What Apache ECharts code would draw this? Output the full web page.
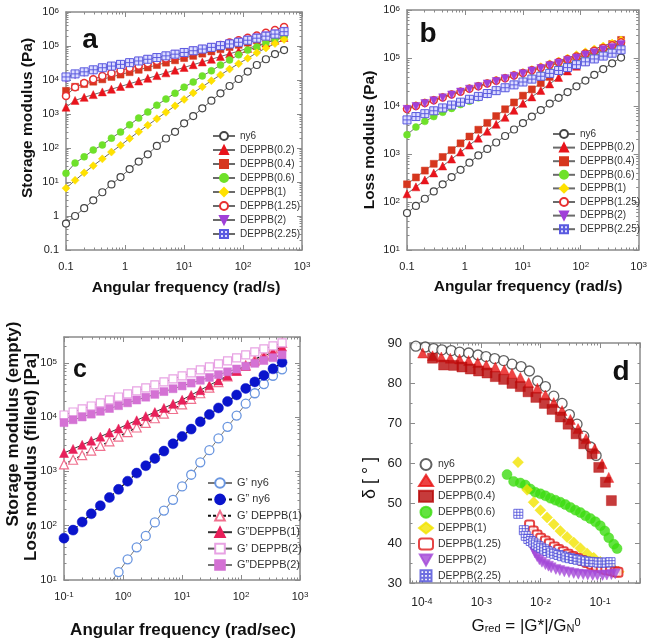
<!DOCTYPE html>
<html><head><meta charset="utf-8">
<script src="https://cdn.jsdelivr.net/npm/echarts@6/dist/echarts.min.js"></script>
<style>html,body{margin:0;padding:0;background:#fff}#c{width:650px;height:643px}</style>
</head><body><div id="c"></div>
<script>
// ---------- data ----------
const freq = [0.1,0.1426,0.2032,0.2897,0.413,0.589,0.84,1.197,1.706,2.432,3.467,4.943,7.047,10.05,14.32,20.42,29.11,41.5,59.16,84.3,120.2,171.4,244.3,348.3,496.6];
const legendA = ['ny6','DEPPB(0.2)','DEPPB(0.4)','DEPPB(0.6)','DEPPB(1)','DEPPB(1.25)','DEPPB(2)','DEPPB(2.25)'];
// panel a: storage modulus (Pa)
const a_ny6  = [0.6,1.0,1.7,2.9,5,8.5,14,24,40,65,115,190,300,530,870,1470,2470,4060,6650,10700,17700,27600,40700,58000,76000];
const a_d02  = [1585,2512,3090,3715,4467,5370,6457,7762,9333,11220,13490,16220,19500,23440,28180,33880,40740,48980,58880,70790,85110,102300,123000,147900,177800];
const a_d04  = [4786,6310,7586,8913,10470,12300,14450,16980,19950,23440,27540,32360,38020,44160,51290,59570,69180,80350,93330,108400,125900,146200,169800,197200,229100];
const a_d06  = [18,36,55,87,123,195,295,479,759,1148,1820,2754,4074,6166,8710,13180,18620,27540,38900,54950,75860,93330,123000,158500,182000];
const a_d1   = [6.6,11.2,18.6,30.2,47.9,75.9,120,191,302,468,724,1122,1738,2692,4169,6310,9550,14130,20890,30200,43650,63100,87100,117500,154900];
const a_d125 = [3388,6166,8128,10470,13180,15850,19050,22390,26300,30900,36310,42660,50120,57540,67610,77620,91200,107200,125900,147900,173800,204200,245500,295100,363100];
const a_d2   = [11000,14000,16500,19000,22000,25000,28000,31500,35500,40000,45000,50500,57000,64000,72000,81000,91500,103000,116000,131000,151000,174000,200000,230000,270000];
const a_d225 = [12300,15140,17380,19950,22910,25700,28840,32360,36310,40740,45710,51290,57540,64570,72440,81280,91200,102300,114800,128800,147900,169800,195000,223900,263000];
// panel b: loss modulus (Pa)
const b_ny6  = [59,83,117,166,234,331,468,661,933,1274,1738,2371,3236,4416,6026,8222,11220,14790,19500,25700,33880,44670,58880,77620,102300];
const b_d02  = [148,207,288,403,562,785,1096,1531,2138,2985,4169,5821,8128,11350,15490,21130,28840,39360,53700,67610,85110,107200,134900,169800,213800];
const b_d04  = [234,325,451,625,867,1202,1667,2312,3206,4446,6166,8551,11860,16440,22180,29920,40360,54450,73450,89330,108600,132100,160700,195400,237700];
const b_d06  = [2512,3631,4786,6026,7413,8913,10720,12590,14790,17380,20420,23990,28180,33110,38900,45710,53700,63100,74130,87100,102300,120200,141300,166000,199500];
const b_d1   = [8913,10230,11750,13490,15490,17780,20420,23440,26300,30200,34670,38900,44670,50120,57540,66070,75860,87100,100000,117500,134900,154900,177800,204200,237100];
const b_d125 = [8700,10000,11500,13200,15100,17400,19900,22900,25700,29500,33500,38000,43200,48500,55600,63000,72500,82300,94500,108000,124000,141000,162000,185000,213000];
const b_d2   = [8511,9772,11220,12880,14790,16980,19500,22390,25120,28840,32360,37150,41690,46770,53700,60260,69180,77620,89130,100000,114800,128800,147900,166000,190500];
const b_d225 = [5129,6026,6918,7943,9120,10470,12020,13800,15850,18200,20890,23990,27540,31620,36310,41690,47860,54950,63100,72440,83180,95500,109600,125900,147900];
// panel c
const legendC = ['G’ ny6','G” ny6','G’ DEPPB(1)','G”DEPPB(1)','G’ DEPPB(2)','G”DEPPB(2)'];
const c_gp_ny6  = a_ny6;
const c_gpp_ny6 = b_ny6;
const c_gp_d1   = [1349,1641,1995,2427,2951,3589,4365,5309,6457,7852,9550,11610,14130,17180,21780,27610,34990,44360,56230,71290,90360,114600,145200,184100,233300];
const c_gpp_d1  = [2188,2600,3090,3681,4375,5212,6194,7379,8770,10450,12420,14790,17580,20890,25640,31480,38640,47420,58210,71450,87700,107600,132100,162200,199500];
const c_gp_d2   = [10960,12450,14160,16070,18280,20750,23550,26790,30410,34590,39260,44570,50700,57540,65460,74300,84330,95940,108900,123900,140600,159600,181600,206100,234400];
const c_gpp_d2  = [7943,8954,10090,11380,12820,14450,16290,18370,20700,23330,26300,29650,33420,37670,42460,47860,53950,60810,68550,77270,87100,98170,110700,124700,140600];
// panel d: [G_red, delta]
const d_ny6 = [[7.9e-5,89.2],[1.14e-4,89.0],[1.57e-4,88.6],[2.17e-4,88.3],[3.12e-4,88.1],[4.31e-4,87.7],[6.12e-4,87.5],[8.8e-4,87.0],[1.2e-3,86.6],[1.68e-3,86.1],[2.38e-3,85.6],[3.29e-3,84.7],[4.67e-3,84.1],[6.45e-3,83.0],[8.9e-3,80.5],[0.012,79.1],[0.0166,76.7],[0.0229,74.9],[0.0304,72.1],[0.0409,69.7],[0.0531,66.7],[0.0688,64.0],[0.0857,61.9]];
const d_d02 = [[1.03e-4,87.5],[1.51e-4,86.8],[2.12e-4,86.5],[3.0e-4,86.2],[4.3e-4,86.0],[6.1e-4,85.6],[8.7e-4,85.1],[1.21e-3,84.5],[1.72e-3,84.0],[2.44e-3,83.3],[3.29e-3,82.4],[4.54e-3,81.4],[6.28e-3,80.1],[8.8e-3,78.7],[0.012,77.0],[0.0166,75.1],[0.0229,73.1],[0.0316,70.9],[0.0426,68.6],[0.058,66.1],[0.0813,63.6],[0.108,59.8],[0.14,56.4]];
const d_d04 = [[1.51e-4,86.2],[2.32e-4,84.5],[3.42e-4,84.4],[4.72e-4,84.0],[6.53e-4,83.5],[9.0e-4,83.0],[1.25e-3,82.5],[1.72e-3,81.6],[2.38e-3,80.9],[3.29e-3,79.9],[4.54e-3,79.1],[6.12e-3,77.8],[8.3e-3,76.4],[0.01153,74.9],[0.0155,73.4],[0.0214,71.5],[0.0289,69.7],[0.0394,67.3],[0.0531,64.8],[0.0733,62.3],[0.095,58.9],[0.123,55.2],[0.155,50.6]];
const d_d06 = [[2.71e-3,57.1],[3.5e-3,55.4],[4.54e-3,55.0],[5.5e-3,54.5],[6.7e-3,53.5],[8.1e-3,52.7],[9.9e-3,52.3],[0.012,51.8],[0.0146,51.2],[0.0177,50.7],[0.0214,50.2],[0.026,49.6],[0.0316,48.9],[0.0384,48.2],[0.0466,47.6],[0.0566,46.8],[0.0688,46.1],[0.0834,45.3],[0.101,44.3],[0.12,43.0],[0.14,41.3],[0.17,39.7],[0.193,38.6]];
const d_d1 = [[4.15e-3,60.2],[5.9e-3,53.3],[7.6e-3,50.2],[9.9e-3,48.2],[0.0128,46.4],[0.0166,44.7],[0.0214,43.0],[0.0278,41.5],[0.036,40.1],[0.0466,38.7],[0.0604,37.4],[0.0782,36.3],[0.101,35.3],[0.131,34.2],[0.17,33.4],[0.206,32.8]];
const d_d125 = [[6.5e-3,44.5],[7.5e-3,43.0],[8.7e-3,42.0],[0.01,41.2],[0.012,40.5],[0.014,39.8],[0.017,39.0],[0.02,38.4],[0.024,37.8],[0.029,37.2],[0.035,36.6],[0.042,36.1],[0.05,35.6],[0.06,35.1],[0.072,34.6],[0.087,34.2],[0.105,33.8],[0.125,33.4],[0.15,33.1],[0.18,32.8],[0.2,32.7]];
const d_d2 = [[7e-3,39.5],[7.5e-3,38.5],[8e-3,37.5],[8.7e-3,36.6],[9.5e-3,35.8],[0.0105,35.2],[0.012,34.6],[0.0135,34.2],[0.015,33.8],[0.018,33.4],[0.021,33.1],[0.025,32.8],[0.03,32.6],[0.036,32.4],[0.043,32.2],[0.052,32.1],[0.062,32.0],[0.075,31.9],[0.09,31.9],[0.11,31.9],[0.13,32.0],[0.155,32.1],[0.18,32.3]];
const d_d225 = [[4.2e-3,47.3],[5.2e-3,43.2],[5.6e-3,41.8],[6.2e-3,41.0],[6.8e-3,40.5],[7.5e-3,40.1],[8.3e-3,39.6],[9.2e-3,39.2],[0.0102,38.8],[0.0115,38.4],[0.013,38.0],[0.015,37.6],[0.017,37.3],[0.02,37.0],[0.023,36.7],[0.027,36.4],[0.031,36.2],[0.036,36.0],[0.042,35.8],[0.05,35.6],[0.058,35.4],[0.068,35.3],[0.08,35.2],[0.095,35.1],[0.11,35.1],[0.13,35.1],[0.15,35.2]];

// ---------- styling / layout ----------
const FONT = '"Liberation Sans", Arial, sans-serif';
const chart = echarts.init(document.getElementById('c'), null, {renderer:'canvas'});
const grids = [
  {left:66, top:12, width:236, height:238},
  {left:407, top:10, width:233, height:240},
  {left:64, top:337, width:236, height:243},
  {left:410, top:343, width:230, height:240}
];
const xCfg = [
  {type:'log', min:0.1, max:1000, fmt:'dec', margin:11, fs:11},
  {type:'log', min:0.1, max:1000, fmt:'dec', margin:11, fs:11},
  {type:'log', min:0.1, max:1000, fmt:'exp', margin:11, fs:11},
  {type:'log', min:6.3e-5, max:0.47, fmt:'exp', margin:14, fs:12}
];
const yCfg = [
  {type:'log', min:0.1, max:1e6, fmt:'dec', margin:7, fs:11},
  {type:'log', min:10, max:1e6, fmt:'exp', margin:7, fs:11},
  {type:'log', min:10, max:3e5, fmt:'exp', margin:7, fs:11},
  {type:'value', min:30, max:90, interval:10, margin:8, fs:13}
];
function logFmt(style){
  return v => {
    const l = Math.log10(v), e = Math.round(l);
    if (Math.abs(l - e) > 1e-6) return '';
    if (style === 'dec' && e === -1) return '0.1';
    if (style === 'dec' && e === 0) return '1';
    return '10{s|' + e + '}';
  };
}
function minorVals(cfg){
  const out = [];
  if (cfg.type === 'log') {
    for (let e = Math.floor(Math.log10(cfg.min)) - 1; e <= Math.ceil(Math.log10(cfg.max)); e++) {
      for (let m = 2; m <= 9; m++) { const v = m * Math.pow(10, e); if (v > cfg.min && v < cfg.max) out.push(v); }
    }
  } else {
    for (let v = cfg.min + cfg.interval/2; v < cfg.max; v += cfg.interval) out.push(v);
  }
  return out;
}
const AX = '#8a8a8a';
function mkAxis(gi, cfg, pos, kind){
  const ax = {
    type: cfg.type, gridIndex: gi, min: cfg.min, max: cfg.max, position: pos, silent: true,
    axisLine: {show: kind !== 'minor', onZero: false, lineStyle: {color: AX, width: 1.5}},
    axisTick: {show: true, inside: true, length: kind === 'minor' ? 2.5 : 5, lineStyle: {color: AX, width: 1}},
    axisLabel: {show: false}, splitLine: {show: false}
  };
  if (cfg.type === 'log') ax.logBase = 10;
  if (cfg.interval) ax.interval = cfg.interval;
  if (kind === 'minor') ax.axisTick.customValues = minorVals(cfg);
  if (kind === 'major') {
    ax.axisLabel = {
      show: true, color: '#222', fontSize: cfg.fs, fontFamily: FONT, margin: cfg.margin,
      formatter: cfg.type === 'log' ? logFmt(cfg.fmt) : (v => String(v)),
      rich: {s: {fontSize: Math.round(cfg.fs * 0.72), fontFamily: FONT, color: '#222', verticalAlign: 'top', lineHeight: 9}}
    };
  }
  return ax;
}
const xAxes = [], yAxes = [], xIdx = [], yIdx = [];
for (let g = 0; g < 4; g++) {
  xIdx.push(xAxes.length);
  xAxes.push(mkAxis(g, xCfg[g], 'bottom', 'major'));
  xAxes.push(mkAxis(g, xCfg[g], 'top', 'mirror'));
  xAxes.push(mkAxis(g, xCfg[g], 'bottom', 'minor'));
  xAxes.push(mkAxis(g, xCfg[g], 'top', 'minor'));
  yIdx.push(yAxes.length);
  yAxes.push(mkAxis(g, yCfg[g], 'left', 'major'));
  yAxes.push(mkAxis(g, yCfg[g], 'right', 'mirror'));
  yAxes.push(mkAxis(g, yCfg[g], 'left', 'minor'));
  yAxes.push(mkAxis(g, yCfg[g], 'right', 'minor'));
}

const MK = {
  'ny6':        {symbol:'circle', size:7, color:'#ffffff', border:'#444', bw:1.2},
  'DEPPB(0.2)': {symbol:'triangle', size:8, color:'#e8141c'},
  'DEPPB(0.4)': {symbol:'rect', size:7, color:'#d6361e'},
  'DEPPB(0.6)': {symbol:'circle', size:7, color:'#6fe12a'},
  'DEPPB(1)':   {symbol:'diamond', size:8, color:'#ffe100'},
  'DEPPB(1.25)':{symbol:'circle', size:7, color:'#ffffff', border:'#e83030', bw:1.5},
  'DEPPB(2)':   {symbol:'path://M0,0L10,0L5,9Z', size:8, color:'#a040d8'},
  'DEPPB(2.25)':{symbol:'path://M0,0H10V10H0Z M5,0V10 M0,5H10', size:8, color:'#dcdcff', border:'#5a5ae0', bw:1}
};
function zip(ys){ return freq.map((f, i) => [f, ys[i]]); }
const series = [];
function lineSeries(prefix, g, name, ys, mk, line){
  series.push({
    name: prefix + name, type: 'line', xAxisIndex: xIdx[g], yAxisIndex: yIdx[g],
    data: zip(ys), symbol: mk.symbol, symbolSize: mk.size, showSymbol: true, silent: true, animation: false,
    itemStyle: {color: mk.color, borderColor: mk.border || mk.color, borderWidth: mk.bw || 0.5},
    lineStyle: Object.assign({color: '#6a6a6a', width: 1}, line || {}),
    emphasis: {disabled: true}
  });
}
const aData = [a_ny6, a_d02, a_d04, a_d06, a_d1, a_d125, a_d2, a_d225];
const bData = [b_ny6, b_d02, b_d04, b_d06, b_d1, b_d125, b_d2, b_d225];
legendA.forEach((n, i) => lineSeries('a:', 0, n, aData[i], MK[n]));
legendA.forEach((n, i) => lineSeries('b:', 1, n, bData[i], MK[n]));

const MKC = [
  {symbol:'circle', size:9, color:'#ffffff', border:'#6a96e0', bw:1.3},
  {symbol:'circle', size:10, color:'#0a14cc', border:'#0a14cc', bw:0.5},
  {symbol:'triangle', size:9, color:'#ffffff', border:'#f0708e', bw:1.2},
  {symbol:'triangle', size:9, color:'#e8205a', border:'#e8205a', bw:0.5},
  {symbol:'rect', size:8, color:'#ffffff', border:'#e8a2e4', bw:1.2},
  {symbol:'rect', size:8, color:'#d472d4', border:'#d472d4', bw:0.5}
];
const LNC = [
  {color:'#777', width:1},
  {color:'#111', width:1.2, type:[4,3]},
  {color:'#111', width:1.2, type:[3,2]},
  {color:'#333', width:1},
  {color:'#555', width:1},
  {color:'#777', width:1}
];
const cData = [c_gp_ny6, c_gpp_ny6, c_gp_d1, c_gpp_d1, c_gp_d2, c_gpp_d2];
legendC.forEach((n, i) => lineSeries('c:', 2, n, cData[i], MKC[i], LNC[i]));

const MKD = {
  'ny6':        {symbol:'circle', size:10, color:'#ffffff', border:'#3a3a3a', bw:1.3},
  'DEPPB(0.2)': {symbol:'triangle', size:10, color:'#e81414'},
  'DEPPB(0.4)': {symbol:'rect', size:10, color:'#b80a0a'},
  'DEPPB(0.6)': {symbol:'circle', size:10, color:'#3cdc10'},
  'DEPPB(1)':   {symbol:'diamond', size:11, color:'#f2e400'},
  'DEPPB(1.25)':{symbol:'roundRect', size:9, color:'#ffffff', border:'#e01818', bw:2},
  'DEPPB(2)':   {symbol:'path://M0,0L10,0L5,9Z', size:10, color:'#a448d8'},
  'DEPPB(2.25)':{symbol:'path://M0,0H10V10H0Z M3.3,0V10 M6.7,0V10 M0,3.3H10 M0,6.7H10', size:9, color:'#ffffff', border:'#4a4ad8', bw:1}
};
const dData = [d_ny6, d_d02, d_d04, d_d06, d_d1, d_d125, d_d2, d_d225];
legendA.forEach((n, i) => {
  const mk = MKD[n];
  series.push({
    name: 'd:' + n, type: 'scatter', xAxisIndex: xIdx[3], yAxisIndex: yIdx[3], data: dData[i],
    symbol: mk.symbol, symbolSize: mk.size, silent: true, animation: false,
    itemStyle: {color: mk.color, borderColor: mk.border || mk.color, borderWidth: mk.bw || 0.5},
    emphasis: {disabled: true}
  });
});

function legend(prefix, names, left, top, iw, ih, gap, fs){
  return {
    show: true, orient: 'vertical', left: left, top: top, itemWidth: iw, itemHeight: ih, itemGap: gap,
    selectedMode: false, padding: 0, data: names.map(n => prefix + n), formatter: n => n.slice(2),
    textStyle: {fontSize: fs, color: '#333', fontFamily: FONT, lineHeight: ih}
  };
}
const legends = [
  legend('a:', legendA, 212, 131, 22, 10, 4, 10),
  legend('b:', legendA, 552, 129, 22, 10, 3.6, 10),
  legend('c:', legendC, 207, 477, 24, 12, 4.4, 11),
  legend('d:', legendA, 418, 458, 14, 11, 2.9, 10.5)
];

function txt(x, y, text, font, rot, extra){
  return Object.assign({type: 'text', x: x, y: y, rotation: rot || 0, silent: true,
    style: Object.assign({text: text, font: font, fill: '#111', align: 'center', verticalAlign: 'middle'}, extra || {})});
}
const graphic = [
  txt(186, 288, 'Angular frequency (rad/s)', 'bold 15.5px ' + FONT),
  txt(28, 118, 'Storage modulus (Pa)', 'bold 15.5px ' + FONT, Math.PI/2),
  txt(528, 287, 'Angular frequency (rad/s)', 'bold 15.5px ' + FONT),
  txt(370, 140, 'Loss modulus (Pa)', 'bold 15.5px ' + FONT, Math.PI/2),
  txt(183, 630, 'Angular frequency (rad/sec)', 'bold 17px ' + FONT),
  txt(13, 424, 'Storage modulus (empty)', 'bold 17px ' + FONT, Math.PI/2),
  txt(31, 457, 'Loss modulus (filled) [Pa]', 'bold 17px ' + FONT, Math.PI/2),
  txt(370, 478, 'δ [ ° ]', '18px ' + FONT, Math.PI/2),
  {type: 'text', x: 526, y: 626, silent: true, style: {
    text: 'G{sb|red} = |G*|/G{sb|N}{sp|0}', font: '17px ' + FONT, fill: '#111', align: 'center', verticalAlign: 'middle',
    rich: {sb: {fontSize: 11, fontFamily: FONT, verticalAlign: 'bottom', lineHeight: 10, padding: [8,0,0,0]},
           sp: {fontSize: 11, fontFamily: FONT, verticalAlign: 'top', lineHeight: 10}}}},
  txt(90, 40, 'a', 'bold 28px ' + FONT),
  txt(428, 34, 'b', 'bold 28px ' + FONT),
  txt(80, 370, 'c', 'bold 25px ' + FONT),
  txt(621, 372, 'd', 'bold 28px ' + FONT)
];

chart.setOption({
  animation: false,
  backgroundColor: '#ffffff',
  grid: grids.map(g => Object.assign({show: false, containLabel: false}, g)),
  xAxis: xAxes, yAxis: yAxes,
  legend: legends,
  series: series,
  graphic: graphic
});
</script></body></html>
